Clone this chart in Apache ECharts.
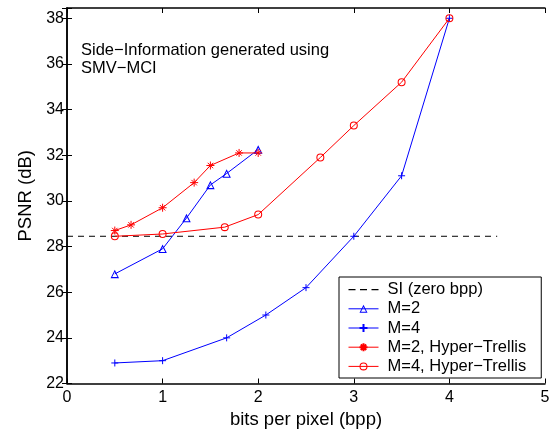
<!DOCTYPE html>
<html>
<head>
<meta charset="utf-8">
<script src="https://cdn.jsdelivr.net/npm/echarts@6/dist/echarts.min.js"></script>
<style>
html,body{margin:0;padding:0;background:#fff;}
#chart{width:549px;height:431px;}
</style>
</head>
<body>
<div id="chart"></div>
<script>
// ---- data ----
const siLevel = 28.45;
const siX = [0, 4.5];
const m2 = [[0.5, 26.8], [1.0, 27.9], [1.25, 29.25], [1.5, 30.7], [1.67, 31.2], [2.0, 32.25]];
const m4 = [[0.5, 22.9], [1.0, 23.0], [1.67, 24.0], [2.08, 25.0], [2.5, 26.2], [3.0, 28.45], [3.5, 31.1], [4.0, 38.0]];
const m2ht = [[0.5, 28.7], [0.67, 28.95], [1.0, 29.7], [1.33, 30.8], [1.5, 31.55], [1.8, 32.1], [2.0, 32.1]];
const m4ht = [[0.5, 28.45], [1.0, 28.55], [1.65, 28.85], [2.0, 29.4], [2.65, 31.9], [3.0, 33.3], [3.5, 35.2], [4.0, 38.0]];
const seriesNames = ['SI (zero bpp)', 'M=2', 'M=4', 'M=2, Hyper\u2212Trellis', 'M=4, Hyper\u2212Trellis'];
const xLabel = 'bits per pixel (bpp)';
const yLabel = 'PSNR (dB)';
const noteLines = ['Side\u2212Information generated using', 'SMV\u2212MCI'];

const FONT = '"Liberation Sans", Arial, Helvetica, sans-serif';
const BLUE = '#0000ff', RED = '#ff0000';
const plusPath = 'path://M0,5L10,5M5,0L5,10';
const starPath = 'path://M0,5L10,5M5,0L5,10M1.6,1.6L8.4,8.4M1.6,8.4L8.4,1.6';
const ringPath = 'path://M5,0A5,5 0 1,1 5,10A5,5 0 1,1 5,0Z M5,1.3A3.7,3.7 0 1,0 5,8.7A3.7,3.7 0 1,0 5,1.3Z';
const triPath = 'path://M5,0L10,10L0,10Z M5,2.8L1.9,8.75L8.1,8.75Z';
const dashIcon = 'path://M0,0h7v1.1h-7zM11.5,0h7v1.1h-7zM23,0h7v1.1h-7z';

const chart = echarts.init(document.getElementById('chart'));
const axisLine = {show: true, lineStyle: {color: '#000', width: 1.5}};
const tick = {show: true, inside: true, length: 5, lineStyle: {color: '#000', width: 1}};

chart.setOption({
  animation: false,
  backgroundColor: '#fff',
  grid: {left: 67, right: 4, top: 8, bottom: 47.5, containLabel: false, outerBoundsMode: 'none'},
  xAxis: [{
    type: 'value', min: 0, max: 5, interval: 1,
    axisLine: axisLine, axisTick: tick, splitLine: {show: false},
    axisLabel: {color: '#000', fontFamily: FONT, fontSize: 16, margin: 6},
    name: xLabel, nameLocation: 'middle', nameGap: 20,
    nameTextStyle: {color: '#000', fontFamily: FONT, fontSize: 18.5}
  }, {
    type: 'value', position: 'top', min: 0, max: 5, interval: 1,
    axisLine: axisLine, axisTick: tick, axisLabel: {show: false}, splitLine: {show: false}
  }],
  yAxis: [{
    type: 'value', min: 22, max: 38.45, interval: 2,
    axisLine: axisLine, axisTick: tick, splitLine: {show: false},
    axisLabel: {color: '#000', fontFamily: FONT, fontSize: 16, margin: 3,
      formatter: v => (Math.abs(v % 2) < 1e-9 ? String(v) : '')},
    name: yLabel, nameLocation: 'middle', nameGap: 32, nameRotate: 90,
    nameTextStyle: {color: '#000', fontFamily: FONT, fontSize: 18.5}
  }, {
    type: 'value', position: 'right', min: 22, max: 38.45, interval: 2,
    axisLine: axisLine, axisTick: tick, axisLabel: {show: false}, splitLine: {show: false}
  }],
  legend: {
    orient: 'vertical', left: 339, top: 277,
    padding: [3, 15, 2, 9], itemGap: 0, itemWidth: 30, itemHeight: 10,
    backgroundColor: '#fff', borderColor: '#000', borderWidth: 1, borderRadius: 0,
    lineStyle: {width: 1},
    textStyle: {color: '#000', fontFamily: FONT, fontSize: 16.5, lineHeight: 19.2, padding: [0, 0, 0, 4]},
    data: [{name: seriesNames[0], icon: dashIcon, itemStyle: {color: '#000'}}].concat(seriesNames.slice(1))
  },
  graphic: [{
    type: 'text', left: 81, top: 41,
    style: {text: noteLines.join('\n'), fill: '#000', font: '16.5px ' + FONT, lineHeight: 18.3}
  }],
  series: [{
    name: seriesNames[0], type: 'line', xAxisIndex: 0, yAxisIndex: 0,
    data: siX.map(x => [x, siLevel]), showSymbol: false, symbol: 'none',
    lineStyle: {color: '#000', width: 1, type: [6, 5]}, itemStyle: {color: '#000'}
  }, {
    name: seriesNames[1], type: 'line', data: m2, symbol: triPath, symbolSize: 8.5,
    lineStyle: {color: BLUE, width: 1}, itemStyle: {color: BLUE, borderWidth: 0}
  }, {
    name: seriesNames[2], type: 'line', data: m4, symbol: plusPath, symbolSize: 7,
    lineStyle: {color: BLUE, width: 1}, itemStyle: {color: BLUE, borderColor: BLUE, borderWidth: 1}
  }, {
    name: seriesNames[3], type: 'line', data: m2ht, symbol: starPath, symbolSize: 8,
    lineStyle: {color: RED, width: 1}, itemStyle: {color: RED, borderColor: RED, borderWidth: 1}
  }, {
    name: seriesNames[4], type: 'line', data: m4ht, symbol: ringPath, symbolSize: 8,
    lineStyle: {color: RED, width: 1}, itemStyle: {color: RED, borderWidth: 0}
  }]
});
</script>
</body>
</html>
